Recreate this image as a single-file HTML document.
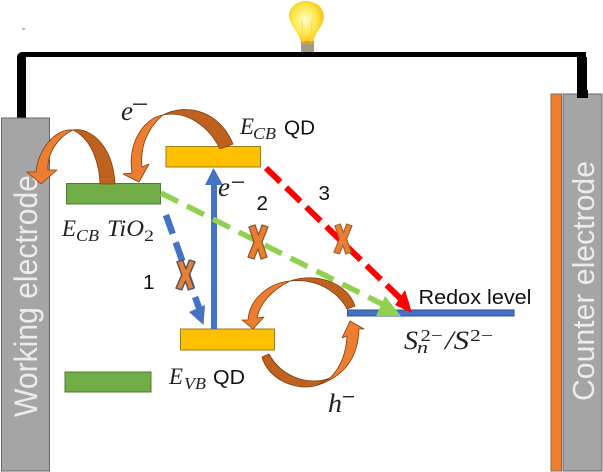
<!DOCTYPE html>
<html><head><meta charset="utf-8">
<style>
html,body{margin:0;padding:0;background:#fff;width:603px;height:472px;overflow:hidden}
svg{display:block}
.s{font-family:"Liberation Sans",sans-serif;fill:#111}
.m{font-family:"Liberation Serif",serif;font-style:italic;fill:#222}
.n{font-family:"Liberation Serif",serif;fill:#222}
</style></head>
<body>
<svg width="603" height="472" viewBox="0 0 603 472" xmlns="http://www.w3.org/2000/svg">
<defs>
<radialGradient id="b" cx="0.45" cy="0.45" r="0.6">
<stop offset="0" stop-color="#fffbd0"/><stop offset="0.55" stop-color="#ffe94a"/><stop offset="1" stop-color="#f9b90a"/>
</radialGradient>
</defs>
<!-- wire -->
<path d="M17 118V58Q17 52 23 52H586V57H26V118Z" fill="#000"/>
<rect x="577" y="57" width="10" height="41" fill="#000"/>
<rect x="22" y="28.500" width="3" height="1" fill="#777"/>
<!-- electrodes -->
<rect x="1.500" y="118" width="48" height="353" fill="#a5a5a5" stroke="#666" stroke-width="1"/>
<rect x="551" y="94" width="10.500" height="377" fill="#ed7d31" stroke="#8a6a50" stroke-width="1"/>
<rect x="563" y="94" width="39" height="377" fill="#a5a5a5" stroke="#666" stroke-width="1"/>
<rect x="577" y="90" width="11" height="8" fill="#000"/>
<text class="s" transform="translate(37,417) rotate(-90)" font-size="32" style="fill:#ececec" textLength="242" lengthAdjust="spacingAndGlyphs">Working electrode</text>
<text class="s" transform="translate(594,401) rotate(-90)" font-size="31" style="fill:#ececec" textLength="240" lengthAdjust="spacingAndGlyphs">Counter electrode</text>
<!-- bulb -->
<path d="M301 43C300 33 290 27 289 16C289 7 297 1 306 1C316 1 324 8 324 17C323 27 314 33 313 43Z" fill="url(#b)"/>
<rect x="301" y="43" width="13" height="9" fill="#a39a80"/>
<rect x="301" y="41" width="13" height="3" fill="#d9a520"/>
<path d="M303 42L302 20M311 42L312 20" stroke="#f6d76a" stroke-width="1" fill="none"/>
<rect x="296" y="52" width="26" height="4" fill="#000"/>
<!-- bars -->
<rect x="166" y="146.500" width="94.500" height="20.500" fill="#ffc000" stroke="#9a7d1e" stroke-width="1"/>
<rect x="66.500" y="183.500" width="94" height="20.500" fill="#70ad47" stroke="#4f7a33" stroke-width="1"/>
<rect x="180.500" y="329" width="94" height="21" fill="#ffc000" stroke="#9a7d1e" stroke-width="1"/>
<rect x="65" y="372" width="86" height="20" fill="#70ad47" stroke="#4f7a33" stroke-width="1"/>
<rect x="347.500" y="310" width="166.500" height="6" fill="#4472c4" stroke="#2f528f" stroke-width="1"/>
<!-- solid blue arrow -->
<rect x="211" y="184" width="6" height="145" fill="#4472c4"/>
<path d="M213.500 168L223 185H205Z" fill="#4472c4"/>
<!-- blue dashed -->
<path d="M166 215L199 308" stroke="#4472c4" stroke-width="6.500" stroke-dasharray="20 9" fill="none"/>
<path d="M203.500 325L189 312L205 305Z" fill="#4472c4"/>
<!-- green dashed -->
<path d="M161 193L382 304" stroke="#92d050" stroke-width="5.500" stroke-dasharray="19 10" fill="none"/>
<path d="M401 316L376 316L385 296Z" fill="#92d050"/>
<!-- red dashed -->
<path d="M266 168L401 299" stroke="#ff0000" stroke-width="6" stroke-dasharray="20 8" fill="none"/>
<path d="M412 313L395 305L405 290Z" fill="#ff0000"/>
<!-- curved arrows -->
<g stroke="#843c0c" stroke-width="0.800" stroke-linejoin="round">
<!-- A -->
<path d="M73 130C90 127 113 145 115 184L100 184C99 160 90 138 73 130Z" fill="#c0621f"/>
<path d="M73 130C55 128 38 150 36 172L27 172L41 184L57 170L48 170C47 153 58 137 73 130Z" fill="#ed7d31"/>
<!-- B -->
<path d="M163 115C188 102 220 112 233 144L220 149C210 128 188 110 163 115Z" fill="#c0621f"/>
<path d="M163 115C143 118 127 145 132 173L123 174L139 182L149 164L142 167C140 145 148 128 163 115Z" fill="#ed7d31"/>
<!-- C -->
<path d="M290 281C315 272 347 282 355 306L347 309C338 292 317 278 290 281Z" fill="#c0621f"/>
<path d="M290 281C268 283 249 300 248 320L242 320L253 329L264 317L257 318C260 303 272 290 290 281Z" fill="#ed7d31"/>
<!-- D -->
<path d="M262 357C268 380 298 392 318 385L330 378C310 386 282 378 269 354Z" fill="#c0621f"/>
<path d="M318 385C342 377 358 360 359 329L364 329L350 321L342 338L347 336C346 355 340 368 330 378Z" fill="#ed7d31"/>
</g>
<!-- X marks -->
<g fill="#ed7d31" stroke-linejoin="round">
<path transform="translate(176,260) scale(.95,.88)" stroke="#44546a" stroke-width="1.500" d="M1 2L7 0L10.500 10L14 0L20 2L14 17L19 32L13 34L10 24L6 34L0 32L6 17Z"/>
<path transform="translate(248,225)" stroke="#8a5a30" stroke-width="1.300" d="M1 2L7 0L10.500 10L14 0L20 2L14 17L19 32L13 34L10 24L6 34L0 32L6 17Z"/>
<path transform="translate(334,224) scale(.9,.88)" stroke="#a0622e" stroke-width="1.300" d="M1 2L7 0L10.500 10L14 0L20 2L14 17L19 32L13 34L10 24L6 34L0 32L6 17Z"/>
</g>
<!-- labels -->
<text class="m" x="121" y="120" font-size="27" textLength="12" lengthAdjust="spacingAndGlyphs">e</text>
<rect x="133" y="103.500" width="14" height="1.400" fill="#222"/>
<text class="m" x="240" y="134" font-size="23" textLength="14" lengthAdjust="spacingAndGlyphs">E</text>
<text class="m" x="253" y="139" font-size="16.500" textLength="23" lengthAdjust="spacingAndGlyphs">CB</text>
<text class="s" x="284" y="134.500" font-size="20.500" textLength="31" lengthAdjust="spacingAndGlyphs">QD</text>
<text class="m" x="218" y="196" font-size="27" textLength="12" lengthAdjust="spacingAndGlyphs">e</text>
<rect x="232" y="181.500" width="12" height="1.400" fill="#222"/>
<text class="s" x="256.500" y="210" font-size="20.500" textLength="11.500" lengthAdjust="spacingAndGlyphs">2</text>
<text class="s" x="318.500" y="200" font-size="20.500" textLength="11.500" lengthAdjust="spacingAndGlyphs">3</text>
<text class="s" x="143" y="289" font-size="20.500" textLength="11.500" lengthAdjust="spacingAndGlyphs">1</text>
<text class="m" x="62" y="236" font-size="23" textLength="14" lengthAdjust="spacingAndGlyphs">E</text>
<text class="m" x="76" y="241" font-size="16.500" textLength="23" lengthAdjust="spacingAndGlyphs">CB</text>
<text class="m" x="107" y="236" font-size="23" textLength="37" lengthAdjust="spacingAndGlyphs">TiO</text>
<text class="n" x="144" y="241" font-size="16" textLength="10" lengthAdjust="spacingAndGlyphs">2</text>
<text class="m" x="169" y="384" font-size="23" textLength="14" lengthAdjust="spacingAndGlyphs">E</text>
<text class="m" x="184" y="389" font-size="16.500" textLength="22" lengthAdjust="spacingAndGlyphs">VB</text>
<text class="s" x="213" y="384" font-size="20.500" textLength="32" lengthAdjust="spacingAndGlyphs">QD</text>
<text class="s" x="418.500" y="304" font-size="20.500" textLength="113" lengthAdjust="spacingAndGlyphs">Redox level</text>
<text class="m" x="404" y="349" font-size="26" textLength="14" lengthAdjust="spacingAndGlyphs">S</text>
<text class="m" x="417" y="353" font-size="17" textLength="11" lengthAdjust="spacingAndGlyphs">n</text>
<text class="n" x="420.500" y="341" font-size="17" textLength="22" lengthAdjust="spacingAndGlyphs">2−</text>
<text class="m" x="445" y="349" font-size="26" textLength="24" lengthAdjust="spacingAndGlyphs">/S</text>
<text class="n" x="470" y="341" font-size="17" textLength="23" lengthAdjust="spacingAndGlyphs">2−</text>
<text class="m" x="328" y="412" font-size="26" textLength="14" lengthAdjust="spacingAndGlyphs">h</text>
<rect x="343" y="396" width="11" height="1.400" fill="#222"/>
</svg>
</body></html>
